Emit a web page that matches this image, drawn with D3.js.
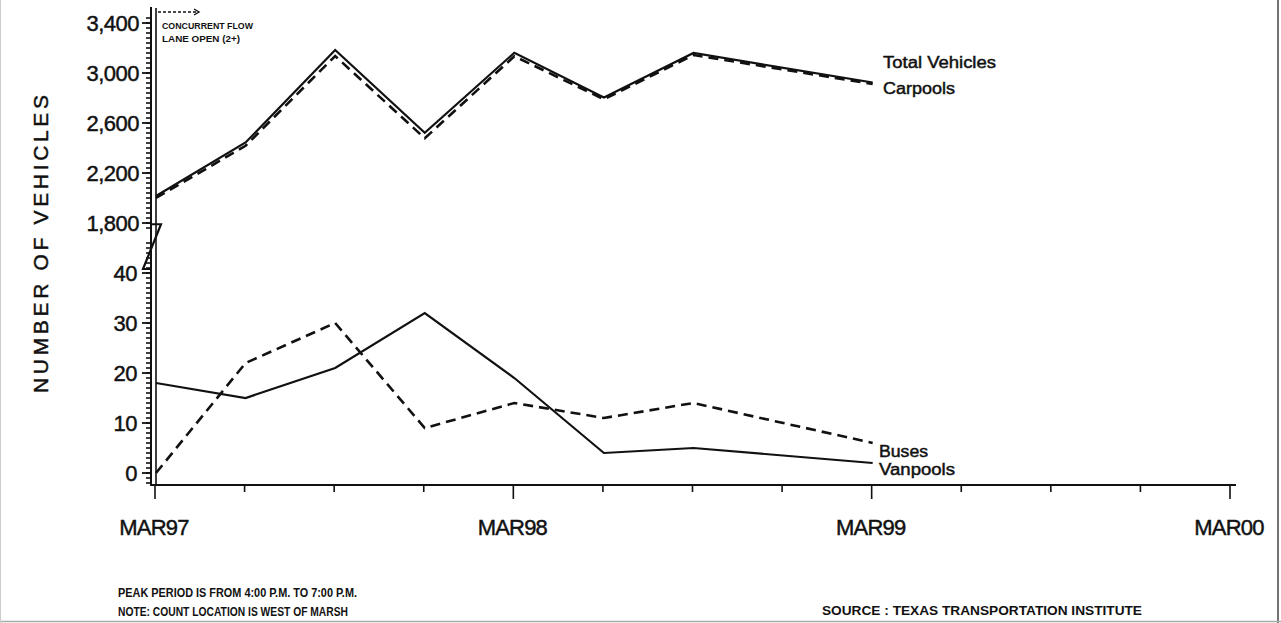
<!DOCTYPE html>
<html>
<head>
<meta charset="utf-8">
<script src="https://cdn.jsdelivr.net/npm/d3@7"></script>
<style>
  html, body { margin: 0; padding: 0; background: #fff; }
  svg { display: block; }
  text { font-family: "Liberation Sans", Arial, Helvetica, sans-serif; fill: #111; }
  .heavy { stroke: #111; stroke-width: 0.45px; }
</style>
</head>
<body>
<svg id="chart" width="1281" height="623"></svg>
<script>
// Count periods, as months elapsed since March 1997
const periodMonths = [0, 3, 6, 9, 12, 15, 18, 24];

// Peak-period vehicle counts
const totalVehicles = [2016, 2444, 3184, 2522, 3162, 2804, 3160, 2924];
const carpools      = [2000, 2418, 3136, 2478, 3134, 2790, 3144, 2912];
const buses         = [0, 22, 30, 9, 14, 11, 14, 6];
const vanpools      = [18, 15, 21, 32, 19, 4, 5, 2];

// Axis ticks
const xTickMonths = [0, 12, 24, 36];
const xTickLabels = ["MAR97", "MAR98", "MAR99", "MAR00"];
const upperTicks = [1800, 2200, 2600, 3000, 3400];
const lowerTicks = [0, 10, 20, 30, 40];

const svg = d3.select("#chart");

// Horizontal scale: March 1997 to March 2000
const x = d3.scaleLinear().domain([0, 36]).range([156, 1231]);
// Broken vertical axis: large counts on top, small counts below
const yUpper = d3.scaleLinear().domain([1800, 3400]).range([223, 23]);
const yLower = d3.scaleLinear().domain([0, 40]).range([473, 273]);

const axisX = 151;
const baseY = 485;

// Light page frame
svg.append("line").attr("x1", 1278).attr("x2", 1278).attr("y1", 0).attr("y2", 623)
  .attr("stroke", "#444").attr("stroke-width", 1.5);
svg.append("line").attr("x1", 0).attr("x2", 1281).attr("y1", 621.5).attr("y2", 621.5)
  .attr("stroke", "#aaa").attr("stroke-width", 1.5);
svg.append("line").attr("x1", 0.5).attr("x2", 0.5).attr("y1", 0).attr("y2", 623)
  .attr("stroke", "#ccc").attr("stroke-width", 1);

// ---- Vertical axis ----
const gy = svg.append("g");
gy.append("line").attr("x1", axisX).attr("x2", axisX).attr("y1", 7).attr("y2", baseY)
  .attr("stroke", "#111").attr("stroke-width", 2);

// Fine ruler ticks on both segments
const upperMinor = d3.range(1760, 3441, 40);
const lowerMinor = d3.range(-2, 47, 1);
gy.selectAll(".mu").data(upperMinor).join("line")
  .attr("x1", axisX - 5).attr("x2", axisX)
  .attr("y1", d => yUpper(d)).attr("y2", d => yUpper(d))
  .attr("stroke", "#111").attr("stroke-width", 1.6);
gy.selectAll(".ml").data(lowerMinor).join("line")
  .attr("x1", axisX - 5).attr("x2", axisX)
  .attr("y1", d => yLower(d)).attr("y2", d => yLower(d))
  .attr("stroke", "#111").attr("stroke-width", 1.6);

// Major ticks and labels
gy.selectAll(".tu").data(upperTicks).join("line")
  .attr("x1", axisX - 9).attr("x2", axisX)
  .attr("y1", d => yUpper(d)).attr("y2", d => yUpper(d))
  .attr("stroke", "#111").attr("stroke-width", 1.8);
gy.selectAll(".tl").data(lowerTicks).join("line")
  .attr("x1", axisX - 9).attr("x2", axisX)
  .attr("y1", d => yLower(d)).attr("y2", d => yLower(d))
  .attr("stroke", "#111").attr("stroke-width", 1.8);

const fmt = d3.format(",");
gy.selectAll(".lu").data(upperTicks).join("text")
  .attr("class", "heavy")
  .attr("x", 139).attr("y", d => yUpper(d) + 8)
  .attr("text-anchor", "end").attr("font-size", 22)
  .attr("letter-spacing", -0.5)
  .text(d => fmt(d));
gy.selectAll(".ll").data(lowerTicks).join("text")
  .attr("class", "heavy")
  .attr("x", 137).attr("y", d => yLower(d) + 8)
  .attr("text-anchor", "end").attr("font-size", 22)
  .attr("letter-spacing", -0.5)
  .text(d => fmt(d));

// Axis break mark between the two segments
gy.append("path")
  .attr("d", `M${axisX},${yUpper(1790)} H${axisX + 10} L${axisX - 8},${yLower(40) - 4} H${axisX}`)
  .attr("fill", "none").attr("stroke", "#111").attr("stroke-width", 2.2);

// Axis title
svg.append("text")
  .attr("class", "heavy")
  .attr("transform", "translate(48,244) rotate(-90)")
  .attr("text-anchor", "middle").attr("font-size", 21)
  .attr("textLength", 298).attr("lengthAdjust", "spacing")
  .text("NUMBER OF VEHICLES");

// ---- Horizontal axis ----
const gx = svg.append("g");
gx.append("line").attr("x1", axisX - 1).attr("x2", x(36) + 5).attr("y1", baseY).attr("y2", baseY)
  .attr("stroke", "#111").attr("stroke-width", 2);
const quarterTicks = d3.range(0, 37, 3);
gx.selectAll(".qx").data(quarterTicks).join("line")
  .attr("x1", d => x(d) - 1).attr("x2", d => x(d) - 1)
  .attr("y1", baseY).attr("y2", d => (d % 12 === 0 ? baseY + 14 : baseY + 7))
  .attr("stroke", "#111").attr("stroke-width", 1.6);
gx.selectAll(".lx").data(xTickMonths).join("text")
  .attr("class", "heavy")
  .attr("x", d => x(d) - 2).attr("y", 535)
  .attr("text-anchor", "middle").attr("font-size", 22)
  .attr("letter-spacing", -0.8)
  .text((d, i) => xTickLabels[i]);

// ---- Lane opening marker ----
svg.append("line").attr("x1", x(0)).attr("x2", x(0)).attr("y1", 8).attr("y2", baseY)
  .attr("stroke", "#111").attr("stroke-width", 1.6);
svg.append("line").attr("x1", x(0) + 2).attr("x2", x(0) + 40).attr("y1", 12).attr("y2", 12)
  .attr("stroke", "#111").attr("stroke-width", 1.4).attr("stroke-dasharray", "3,2");
svg.append("path").attr("d", `M${x(0) + 38},9 L${x(0) + 43},12 L${x(0) + 38},15`)
  .attr("fill", "none").attr("stroke", "#111").attr("stroke-width", 1.4);
svg.append("text").attr("x", 162).attr("y", 29).attr("font-size", 9).attr("font-weight", "bold")
  .attr("textLength", 91).attr("lengthAdjust", "spacingAndGlyphs").text("CONCURRENT FLOW");
svg.append("text").attr("x", 162).attr("y", 42).attr("font-size", 9).attr("font-weight", "bold")
  .attr("textLength", 78).attr("lengthAdjust", "spacingAndGlyphs").text("LANE OPEN (2+)");

// ---- Series ----
function series(values, yScale, dashed) {
  const pts = values.map((v, i) => ({ m: periodMonths[i], v }));
  const line = d3.line().x(d => x(d.m)).y(d => yScale(d.v));
  svg.append("path").datum(pts)
    .attr("d", line)
    .attr("fill", "none").attr("stroke", "#111")
    .attr("stroke-width", dashed ? 2.6 : 2.2)
    .attr("stroke-linejoin", "miter")
    .attr("stroke-dasharray", dashed ? "10,6" : null);
}
series(totalVehicles, yUpper, false);
series(carpools, yUpper, true);
series(vanpools, yLower, false);
series(buses, yLower, true);

// Series labels
const lab = [
  { t: "Total Vehicles", x: 883, y: 68, w: 113 },
  { t: "Carpools", x: 883, y: 94, w: 72 },
  { t: "Buses", x: 879, y: 457, w: 49 },
  { t: "Vanpools", x: 879, y: 475, w: 76 }
];
svg.selectAll(".sl").data(lab).join("text")
  .attr("class", "heavy")
  .attr("x", d => d.x).attr("y", d => d.y).attr("font-size", 16)
  .attr("textLength", d => d.w).attr("lengthAdjust", "spacingAndGlyphs")
  .text(d => d.t);

// ---- Notes ----
const notes = [
  { t: "PEAK PERIOD IS FROM 4:00 P.M. TO 7:00 P.M.", x: 118, y: 597, w: 239 },
  { t: "NOTE: COUNT LOCATION IS WEST OF MARSH", x: 118, y: 616, w: 230 },
  { t: "SOURCE : TEXAS TRANSPORTATION INSTITUTE", x: 822, y: 615, w: 320 }
];
svg.selectAll(".nt").data(notes).join("text")
  .attr("x", d => d.x).attr("y", d => d.y).attr("font-size", 12).attr("font-weight", "bold")
  .attr("textLength", d => d.w).attr("lengthAdjust", "spacingAndGlyphs")
  .text(d => d.t);
</script>
</body>
</html>
